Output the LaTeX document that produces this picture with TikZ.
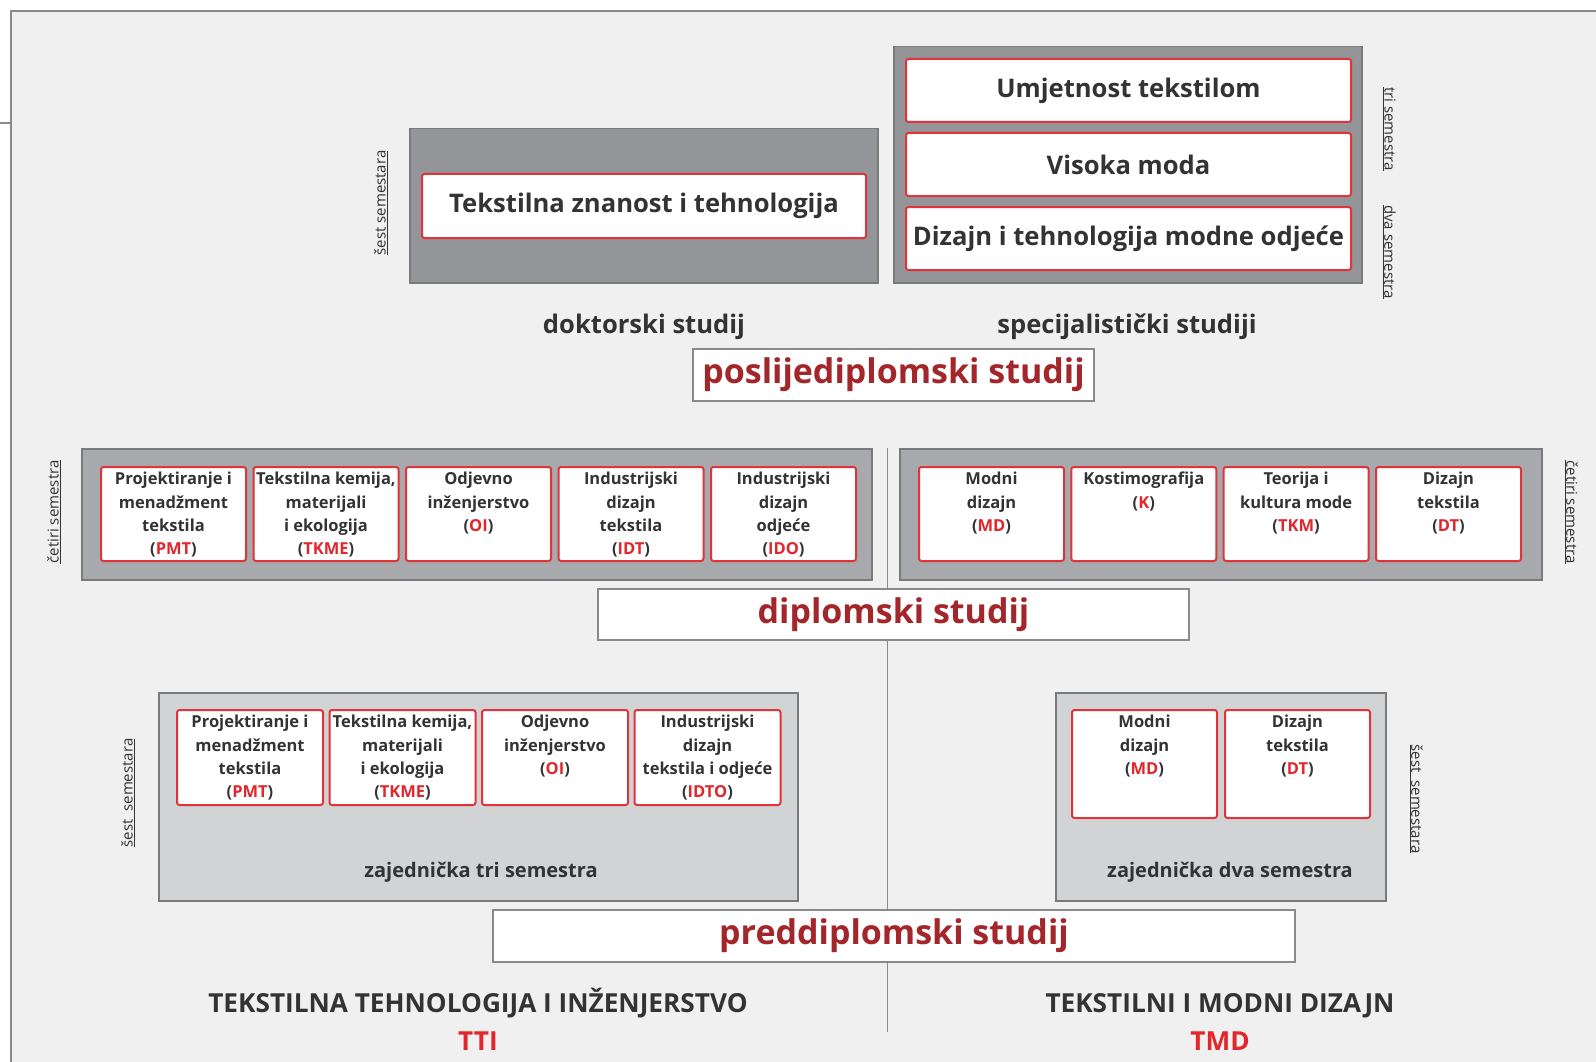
\documentclass[tikz,border=0pt]{standalone}
\usepackage{fontspec}
\setmainfont{Open Sans}
\definecolor{bgcol}{HTML}{F0F0F0}
\definecolor{framecol}{HTML}{8A8A8A}
\definecolor{darkbox}{HTML}{939598}
\definecolor{midbox}{HTML}{A7A9AC}
\definecolor{lightbox}{HTML}{D1D3D4}
\definecolor{boxedge}{HTML}{7A7A7A}
\definecolor{redline}{HTML}{E0343A}
\definecolor{accred}{HTML}{E2262B}
\definecolor{headred}{HTML}{A3262B}
\definecolor{txt}{HTML}{333333}
\tikzset{
  boxA/.style={draw=boxedge, line width=1.5pt, fill=darkbox},
  boxB/.style={draw=boxedge, line width=1.5pt, fill=midbox},
  boxC/.style={draw=boxedge, line width=1.5pt, fill=lightbox},
  redbox/.style={draw=redline, line width=2pt, fill=white, rounded corners=2.5pt},
  headbox/.style={draw=framecol, line width=2pt, fill=white, text=headred,
    font=\fontsize{34}{40}\selectfont\bfseries},
  bigtext/.style={text=txt, font=\fontsize{25.6}{30}\selectfont\bfseries},
  smtext/.style={text=txt, inner sep=0pt, align=center,
    font=\fontsize{16.5}{23.4}\selectfont\bfseries},
  midtext/.style={text=txt, font=\fontsize{20}{24}\selectfont\bfseries},
  semlabel/.style={text=txt, font=\fontsize{15}{17}\selectfont},
  foottext/.style={text=txt, anchor=base, font=\fontsize{26.2}{30}\selectfont\bfseries},
  footred/.style={text=accred, anchor=base, font=\fontsize{26.2}{30}\selectfont\bfseries},
  divider/.style={draw=framecol, line width=1pt}
}
\newcommand\rectnode[7]{\node[#1, anchor=north west, inner sep=0pt,
  minimum width={(#5)-(#3)}, minimum height={(#6)-(#4)}] (#2) at (#3,#4) {#7};}
\newcommand\smtxt[3]{\node[smtext, anchor=north] (#1) at ([yshift=-6pt]#2.north) {#3};}
\newcommand\ab[1]{({\color{accred}#1})}
\begin{document}
\begin{tikzpicture}[x=1pt,y=-1pt]
\useasboundingbox (0,0) rectangle (1596,1062);
\clip (0,0) rectangle (1596,1062);
\fill[white] (0,0) rectangle (1596,1062);
\draw[draw=framecol, line width=1.5pt, fill=bgcol] (11,11) rectangle (1640,1100);
\coordinate (tickA) at (0,123);
\coordinate (tickB) at (11,123);
\draw[draw=framecol, line width=1.2pt] (tickA) -- (tickB);

% divider
\coordinate (vtop) at (887,448);
\coordinate (vbot) at (887,1032);
\draw[divider] (vtop) -- (vbot);

% ---------- postgraduate ----------
\rectnode{boxA}{doc}{409}{128}{877}{282}{}
\rectnode{redbox,bigtext}{tzt}{421}{173}{865}{237}{Tekstilna znanost i tehnologija}
\rectnode{boxA}{spec}{893}{46}{1361}{282}{}
\rectnode{redbox,bigtext}{ut}{905}{58}{1350}{121}{Umjetnost tekstilom}
\rectnode{redbox,bigtext}{vm}{905}{132}{1350}{195}{Visoka moda}
\rectnode{redbox,bigtext}{dtmo}{905}{206}{1350}{269}{Dizajn i tehnologija modne odjeće}
\node[semlabel, rotate=90] (lab1) at (381,203) {\underline{šest semestara}};
\node[semlabel, rotate=-90] (lab2) at (1389,129) {\underline{tri semestra}};
\node[semlabel, rotate=-90] (lab3) at (1389,252) {\underline{dva semestra}};
\node[bigtext] (doklab) at (644,327) {doktorski studij};
\node[bigtext] (speclab) at (1127,327) {specijalistički studiji};
\rectnode{headbox}{posl}{692}{348}{1093}{400}{poslijediplomski studij}

% ---------- graduate ----------
\rectnode{boxB}{midL}{81}{448}{871}{579}{}
\rectnode{boxB}{midR}{899}{448}{1541}{579}{}
\rectnode{redbox}{g1}{100}{466}{245}{560}{}
\rectnode{redbox}{g2}{252.5}{466}{397.5}{560}{}
\rectnode{redbox}{g3}{405}{466}{550}{560}{}
\rectnode{redbox}{g4}{557.5}{466}{702.5}{560}{}
\rectnode{redbox}{g5}{710}{466}{855}{560}{}
\rectnode{redbox}{g6}{918}{466}{1063}{560}{}
\rectnode{redbox}{g7}{1070.3}{466}{1215.3}{560}{}
\rectnode{redbox}{g8}{1222.6}{466}{1367.6}{560}{}
\rectnode{redbox}{g9}{1375}{466}{1520}{560}{}
\smtxt{g1t}{g1}{Projektiranje i\\menadžment\\tekstila\\\ab{PMT}}
\smtxt{g2t}{g2}{Tekstilna kemija,\\materijali\\i ekologija\\\ab{TKME}}
\smtxt{g3t}{g3}{Odjevno\\inženjerstvo\\\ab{OI}}
\smtxt{g4t}{g4}{Industrijski\\dizajn\\tekstila\\\ab{IDT}}
\smtxt{g5t}{g5}{Industrijski\\dizajn\\odjeće\\\ab{IDO}}
\smtxt{g6t}{g6}{Modni\\dizajn\\\ab{MD}}
\smtxt{g7t}{g7}{Kostimografija\\\ab{K}}
\smtxt{g8t}{g8}{Teorija i\\kultura mode\\\ab{TKM}}
\smtxt{g9t}{g9}{Dizajn\\tekstila\\\ab{DT}}
\node[semlabel, rotate=90] (lab4) at (54,512) {\underline{četiri semestra}};
\node[semlabel, rotate=-90] (lab5) at (1571,512) {\underline{četiri semestra}};
\rectnode{headbox}{dipl}{597}{588}{1188}{639}{diplomski studij}

% ---------- undergraduate ----------
\rectnode{boxC}{botL}{158}{692}{797}{900}{}
\rectnode{boxC}{botR}{1055}{692}{1385}{900}{}
\rectnode{redbox}{u1}{176}{709}{322}{804}{}
\rectnode{redbox}{u2}{328.5}{709}{474.5}{804}{}
\rectnode{redbox}{u3}{481}{709}{627}{804}{}
\rectnode{redbox}{u4}{633.5}{709}{779.5}{804}{}
\rectnode{redbox}{u5}{1071}{709}{1216}{817}{}
\rectnode{redbox}{u6}{1224}{709}{1369}{817}{}
\smtxt{u1t}{u1}{Projektiranje i\\menadžment\\tekstila\\\ab{PMT}}
\smtxt{u2t}{u2}{Tekstilna kemija,\\materijali\\i ekologija\\\ab{TKME}}
\smtxt{u3t}{u3}{Odjevno\\inženjerstvo\\\ab{OI}}
\smtxt{u4t}{u4}{Industrijski\\dizajn\\tekstila i odjeće\\\ab{IDTO}}
\smtxt{u5t}{u5}{Modni\\dizajn\\\ab{MD}}
\smtxt{u6t}{u6}{Dizajn\\tekstila\\\ab{DT}}
\node[midtext] (zts) at (481,872) {zajednička tri semestra};
\node[midtext] (zds) at (1230,872) {zajednička dva semestra};
\node[semlabel, rotate=90] (lab6) at (128,793) {\underline{šest\ \ semestara}};
\node[semlabel, rotate=-90] (lab7) at (1416,799) {\underline{šest\ \ semestara}};
\rectnode{headbox}{pred}{492}{909}{1294}{961}{preddiplomski studij}

\node[foottext] (tti1) at (478,1012) {TEKSTILNA TEHNOLOGIJA I INŽENJERSTVO};
\node[footred] (tti2) at (478,1050) {TTI};
\node[foottext] (tmd1) at (1220,1012) {TEKSTILNI I MODNI DIZAJN};
\node[footred] (tmd2) at (1220,1050) {TMD};
\end{tikzpicture}
\end{document}
